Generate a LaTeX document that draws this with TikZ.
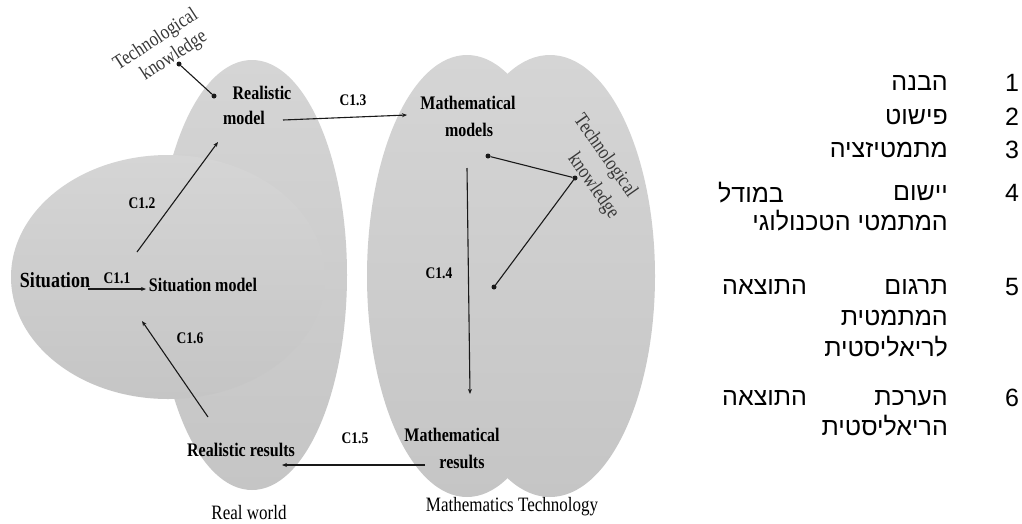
\documentclass[tikz,border=0pt]{standalone}
\usepackage{graphicx}
\usepackage{fontspec}
\setmainfont{Liberation Serif}
\newfontfamily\hebfont[Script=Hebrew]{Liberation Sans}
\TeXXeTstate=1
\usetikzlibrary{arrows.meta}

\definecolor{shadetop}{RGB}{213,213,213}
\definecolor{shadebot}{RGB}{197,197,197}
\definecolor{ink}{RGB}{25,25,25}

% slightly tall lettering
\newcommand{\tallword}[1]{\scalebox{1}[1.2]{#1}}

\begin{document}
\begin{tikzpicture}[x=1pt,y=-1pt,
  region/.style={top color=shadetop,bottom color=shadebot,draw=none},
  bold/.style={font=\fontsize{16}{18}\selectfont\bfseries, inner sep=0pt},
  tag/.style={font=\fontsize{13.5}{15}\selectfont\bfseries, inner sep=0pt},
  plain/.style={font=\fontsize{17}{20}\selectfont, inner sep=0pt},
  knowl/.style={font=\fontsize{17}{20}\selectfont, text=black!78, inner sep=0pt},
  flow/.style={draw=ink, line width=1.1pt, -{Stealth[length=5pt,width=4pt]}},
  link/.style={draw=ink, line width=1.1pt},
  pin/.style={circle, fill=ink, inner sep=0pt, minimum size=5pt},
  heb/.style={font=\hebfont\fontsize{25}{27}\selectfont, inner sep=0pt},
]
\useasboundingbox[fill=white] (0,0) rectangle (1022,523);

% the four regions
\path[region] (252,275) ellipse [x radius=95pt, y radius=215pt];
\path[region] (168,277) ellipse [x radius=157pt, y radius=122pt];
\path[region] (550,276) ellipse [x radius=105pt, y radius=221pt];
\path[region] (467,276) ellipse [x radius=100pt, y radius=221pt];

% stage labels
\node[bold] (rmodelA) at (262,93) {\tallword{Realistic}};
\node[bold] (rmodelB) at (244,118) {\tallword{model}};
\node[bold] (mmodelsA) at (468,103) {\tallword{Mathematical}};
\node[bold] (mmodelsB) at (469,130) {\tallword{models}};
\node[bold] (mresultsA) at (452,435) {\tallword{Mathematical}};
\node[bold] (mresultsB) at (462,462) {\tallword{results}};
\node[bold] (rresults) at (241,450) {\tallword{Realistic results}};
\node[bold] (smodel) at (203,285) {\tallword{Situation model}};
\node[font=\fontsize{18}{20}\selectfont\bfseries, inner sep=0pt] (situation) at (55,280) {\tallword{Situation}};

% world labels
\node[plain] (real) at (249,513) {\tallword{Real world}};
\node[plain] (mathtech) at (512,507) {\tallword{Mathematics Technology}};

% technological knowledge
\node[knowl, rotate=33] (tkrealA) at (156,40) {\tallword{Technological}};
\node[knowl, rotate=33] (tkrealB) at (174,56) {\tallword{knowledge}};
\node[knowl, rotate=-55] (tkmathA) at (605,156) {\tallword{Technological}};
\node[knowl, rotate=-55] (tkmathB) at (593,186) {\tallword{knowledge}};
\node[pin] (p1) at (179,64) {};
\node[pin] (p2) at (214,96) {};
\node[pin] (p3) at (488,156) {};
\node[pin] (p4) at (575,178) {};
\node[pin] (p5) at (494,287) {};
\draw[link] (p1) -- (p2);
\draw[link] (p3) -- (p4) -- (p5);

% arrow ends
\coordinate (a1s) at (88,289);  \coordinate (a1e) at (146,289);
\coordinate (a2s) at (137,252); \coordinate (a2e) at (218,142);
\coordinate (a3s) at (283,120); \coordinate (a3e) at (407,115);
\coordinate (a4s) at (467,168); \coordinate (a4e) at (470,394);
\coordinate (a5s) at (425,465); \coordinate (a5e) at (282,465);
\coordinate (a6s) at (208,417); \coordinate (a6e) at (142,321);

\draw[flow] (a1s) -- (a1e);
\draw[flow] (a2s) -- (a2e);
\draw[flow] (a3s) -- (a3e);
\draw[flow] (a4s) -- (a4e);
\draw[flow] (a5s) -- (a5e);
\draw[flow] (a6s) -- (a6e);

\node[tag] (c11) at (117,278) {\tallword{C1.1}};
\node[tag] (c12) at (142,203) {\tallword{C1.2}};
\node[tag] (c13) at (353,100) {\tallword{C1.3}};
\node[tag] (c14) at (439,273) {\tallword{C1.4}};
\node[tag] (c15) at (355,438) {\tallword{C1.5}};
\node[tag] (c16) at (190,338) {\tallword{C1.6}};

% legend
\node[heb] (n1) at (1012,83) {1};
\node[heb] (n2) at (1012,117) {2};
\node[heb] (n3) at (1012,150) {3};
\node[heb] (n4) at (1012,193) {4};
\node[heb] (n5) at (1012,287) {5};
\node[heb] (n6) at (1012,398) {6};

\node[heb, anchor=east] (h1) at (948,83) {\beginR הבנה\endR};
\node[heb, anchor=east] (h2) at (948,117) {\beginR פישוט\endR};
\node[heb, anchor=east] (h3) at (948,150) {\beginR מתמטיזציה\endR};
\node[heb, anchor=east] (h4a) at (948,193) {\beginR יישום\endR};
\node[heb, anchor=west] (h4b) at (718,193) {\beginR במודל\endR};
\node[heb, anchor=east] (h4c) at (948,221) {\beginR המתמטי הטכנולוגי\endR};
\node[heb, anchor=east] (h5a) at (948,287) {\beginR תרגום\endR};
\node[heb, anchor=west] (h5b) at (722,287) {\beginR התוצאה\endR};
\node[heb, anchor=east] (h5c) at (948,318) {\beginR המתמטית\endR};
\node[heb, anchor=east] (h5d) at (948,347) {\beginR לריאליסטית\endR};
\node[heb, anchor=east] (h6a) at (948,398) {\beginR הערכת\endR};
\node[heb, anchor=west] (h6b) at (722,398) {\beginR התוצאה\endR};
\node[heb, anchor=east] (h6c) at (948,426) {\beginR הריאליסטית\endR};
\end{tikzpicture}
\end{document}
